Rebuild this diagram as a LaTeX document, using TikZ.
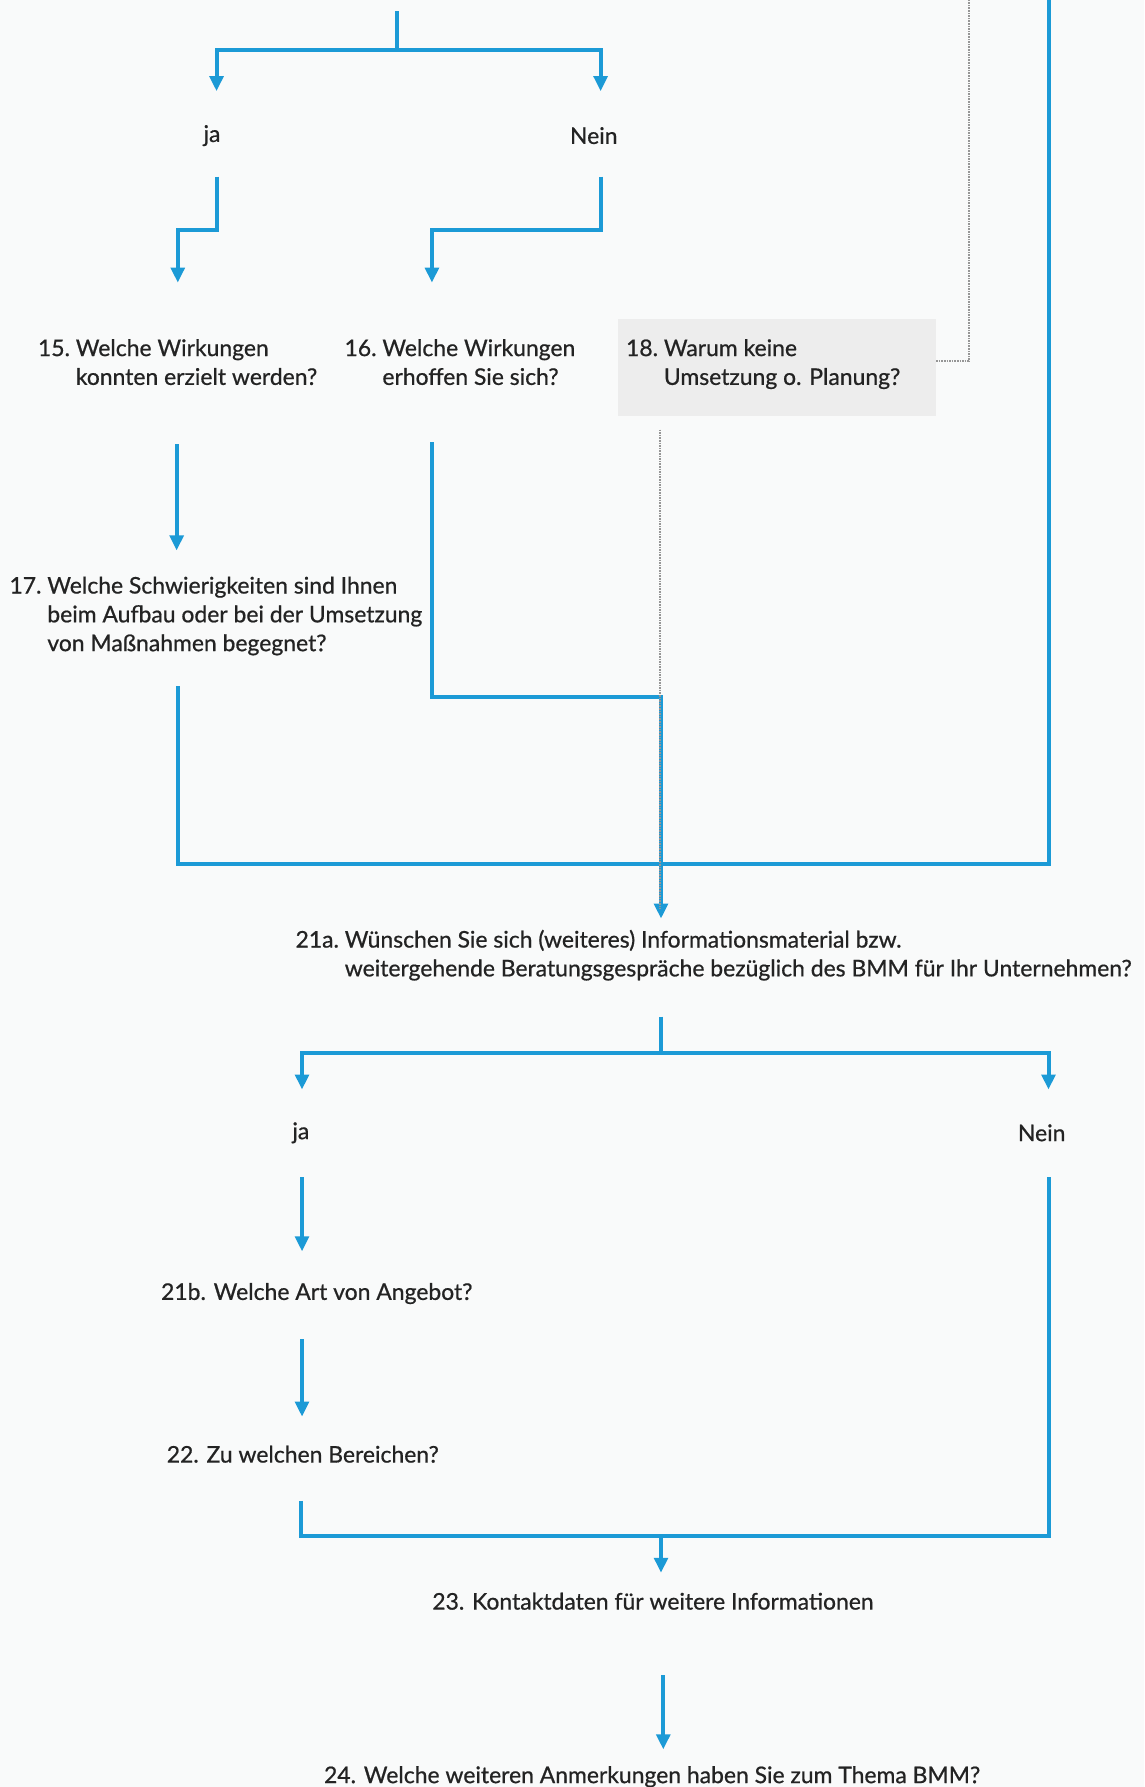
\documentclass[tikz,border=0pt]{standalone}
\usepackage{fontspec}
\setmainfont{Lato}
\newfontfamily\qfont{Lato}[FakeBold=0.7]
\usetikzlibrary{arrows.meta}
\usetikzlibrary{calc}

\definecolor{bmmblue}{RGB}{28,154,214}
\definecolor{bggray}{RGB}{249,250,250}
\definecolor{boxgray}{RGB}{237,237,237}
\definecolor{txtgray}{RGB}{35,35,35}
\definecolor{dotgray}{RGB}{150,150,150}

% question with hanging indent: number, then lines
\newcommand{\qtab}[2]{\begin{tabular}{@{}l@{\ }l@{}}#1 & #2\end{tabular}}

\tikzset{
  flow/.style={draw=bmmblue, line width=2pt},
  arr/.style={flow, -{Triangle[length=7.5pt, width=6.8pt]}},
  dots/.style={draw=dotgray, line width=1.2pt, dash pattern=on 0.8pt off 0.5pt},
  qtext/.style={text=txtgray, inner sep=0pt, align=left,
    font=\qfont\fontsize{11.45}{14.4}\selectfont},
  graybox/.style={fill=boxgray, inner sep=0pt, minimum width=159pt, minimum height=48.4pt}
}

\begin{document}
\begin{tikzpicture}[x=0.5697pt, y=-0.5697pt]
      \fill[bggray] (0,0) rectangle (1004,1568);
      \useasboundingbox (0,0) rectangle (1004,1568);

      % texts
      \node[qtext] (ja1) at (186,119) {ja};
      \node[qtext] (nein1) at (521,119) {Nein};
      \node[qtext, anchor=west] (q15) at (33,320) {\qtab{15.}{Welche Wirkungen\\ & konnten erzielt werden?}};
      \node[qtext, anchor=west] (q16) at (302,320) {\qtab{16.}{Welche Wirkungen\\ & erhoffen Sie sich?}};
      \node[graybox] (b18) at (681.5,322.5) {};
      \node[qtext, anchor=west] (q18) at (549,320) {\qtab{18.}{Warum keine\\ & Umsetzung o. Planung?}};
      \node[qtext, anchor=west] (q17) at (8,541) {\qtab{17.}{Welche Schwierigkeiten sind Ihnen\\ & beim Aufbau oder bei der Umsetzung\\ & von Maßnahmen begegnet?}};
      \node[qtext, anchor=west] (q21a) at (259,839) {\qtab{21a.}{Wünschen Sie sich (weiteres) Informationsmaterial bzw.\\ & weitergehende Beratungsgespräche bezüglich des BMM für Ihr Unternehmen?}};
      \node[qtext] (ja2) at (264,994) {ja};
      \node[qtext] (nein2) at (914,994) {Nein};
      \node[qtext, anchor=west] (q21b) at (141,1135) {21b. Welche Art von Angebot?};
      \node[qtext, anchor=west] (q22) at (146,1276) {22. Zu welchen Bereichen?};
      \node[qtext, anchor=west] (q23) at (379,1405) {23. Kontaktdaten für weitere Informationen};
      \node[qtext, anchor=west] (q24) at (284,1559) {24. Welche weiteren Anmerkungen haben Sie zum Thema BMM?};

      % connector points
      \coordinate (t0) at (348,10);
      \coordinate (t1) at (348,44);
      \coordinate (a1) at (190,80);
      \coordinate (a2) at (527,80);
      \coordinate (b1) at (190,155);
      \coordinate (b2) at (156,202);
      \coordinate (b3) at (156,248);
      \coordinate (c1) at (527,155);
      \coordinate (c2) at (379,202);
      \coordinate (c3) at (379,248);
      \coordinate (d1) at (155,390);
      \coordinate (d2) at (155,483);
      \coordinate (e1) at (156,602);
      \coordinate (e2) at (920,758);
      \coordinate (rtop) at (920,0);
      \coordinate (f1) at (379,388);
      \coordinate (f2) at (580,612);
      \coordinate (f3) at (580,806);
      \coordinate (g1) at (850,317);
      \coordinate (g2) at (850,0);
      \coordinate (h1) at (579,377);
      \coordinate (h2) at (579,798);
      \coordinate (s0) at (580,892);
      \coordinate (s1) at (580,924);
      \coordinate (s2) at (265,956);
      \coordinate (s3) at (920,956);
      \coordinate (j1) at (265,1033);
      \coordinate (j2) at (265,1098);
      \coordinate (k1) at (265,1175);
      \coordinate (k2) at (265,1243);
      \coordinate (l1) at (264,1317);
      \coordinate (l2) at (920,1348);
      \coordinate (l3) at (920,1033);
      \coordinate (m1) at (580,1348);
      \coordinate (m2) at (580,1380);
      \coordinate (n1) at (582,1470);
      \coordinate (n2) at (582,1535);

      % blue lines
      \draw[flow] (t0) -- (t1);
      \draw[arr] (t1) -| (a1);
      \draw[arr] (t1) -| (a2);
      \draw[arr] (b1) |- (b2) -- (b3);
      \draw[arr] (c1) |- (c2) -- (c3);
      \draw[arr] (d1) -- (d2);
      \draw[flow] (e1) |- (e2) -- (rtop);
      \draw[arr] (f1) |- (f2) -- (f3);
      \draw[flow] (s0) -- (s1);
      \draw[arr] (s1) -| (s2);
      \draw[arr] (s1) -| (s3);
      \draw[arr] (j1) -- (j2);
      \draw[arr] (k1) -- (k2);
      \draw[flow] (l1) |- (l2) -- (l3);
      \draw[arr] (m1) -- (m2);
      \draw[arr] (n1) -- (n2);

      % dotted lines from 18
      \draw[dots] (b18.east |- g1) -- (g1) -- (g2);
      \draw[dots] (h1) -- (h2);
\end{tikzpicture}
\end{document}
